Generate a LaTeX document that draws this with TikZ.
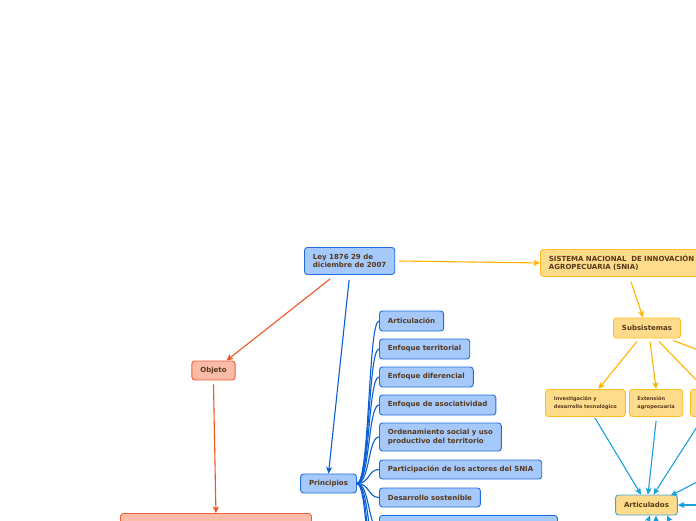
\documentclass[tikz,border=0pt]{standalone}
\usepackage{fontspec}
\setmainfont{DejaVu Sans}
\usetikzlibrary{arrows.meta}
\definecolor{bfill}{RGB}{166,201,252}
\definecolor{bdraw}{RGB}{30,110,225}
\definecolor{bline}{RGB}{10,95,215}
\definecolor{yfill}{RGB}{255,220,140}
\definecolor{ydraw}{RGB}{255,190,30}
\definecolor{yline}{RGB}{255,180,0}
\definecolor{sfill}{RGB}{250,188,168}
\definecolor{sdraw}{RGB}{242,95,50}
\definecolor{sline}{RGB}{242,85,35}
\definecolor{cline}{RGB}{25,160,225}
\definecolor{cdraw}{RGB}{60,165,215}
\definecolor{tcol}{RGB}{85,55,25}
\begin{document}
\begin{tikzpicture}[x=1pt,y=-1pt,
  box/.style={rounded corners=3pt, line width=0.9pt, font=\fontsize{7}{8.5}\selectfont\bfseries, text=tcol, inner xsep=8.5pt, inner ysep=0pt, align=left},
  smallbox/.style={box, font=\fontsize{5}{8}\selectfont\bfseries},
  bluebox/.style={box, fill=bfill, draw=bdraw},
  yelbox/.style={box, fill=yfill, draw=ydraw},
  salbox/.style={box, fill=sfill, draw=sdraw},
  artbox/.style={box, fill=yfill, draw=cdraw},
  tip/.style={-{Stealth[length=6.5pt,width=6pt,inset=1.5pt]}},
  conn/.style={line width=1.1pt},
  bconn/.style={conn, draw=bline},
  yconn/.style={conn, draw=yline, tip},
  sconn/.style={conn, draw=sline, tip},
  cconn/.style={conn, draw=cline, tip},
  pconn/.style={conn, draw=bline}
]
\useasboundingbox (0,0) rectangle (696,520);
\fill[white] (0,0) rectangle (696,520);
\begin{scope}
\clip (0,0) rectangle (696,520);

% main nodes
\node[bluebox, anchor=north west, minimum width=89pt, minimum height=27pt] (ley) at (304,247) {Ley 1876 29 de\\diciembre de 2007};
\node[yelbox, anchor=north west, minimum height=27pt, text width=183pt] (snia) at (540,249) {SISTEMA NACIONAL\ \ DE INNOVACIÓN\\AGROPECUARIA (SNIA)};
\node[yelbox, minimum width=66pt, minimum height=20pt] (sub) at (647,328) {Subsistemas};
\node[yelbox, smallbox, anchor=north west, minimum width=79pt, minimum height=27pt] (inv) at (545,389) {Investigación y\\desarrollo tecnológico};
\node[yelbox, smallbox, anchor=north west, minimum width=53pt, minimum height=27pt, inner xsep=8pt] (ext) at (629,389) {Extensión\\agropecuaria};
\node[yelbox, anchor=north west, minimum width=60pt, minimum height=27pt] (third) at (690,389) {};
\node[artbox, minimum width=61pt, minimum height=20pt] (art) at (646.5,505) {Articulados};
\node[salbox, minimum width=43pt, minimum height=19pt] (obj) at (213.5,370.5) {Objeto};
\node[salbox, anchor=north west, minimum width=191pt, minimum height=32pt] (big) at (120,513) {};
\node[bluebox, minimum width=55pt, minimum height=19pt] (prin) at (328.5,483.5) {Principios};

% principle items
\node[bluebox, anchor=west, minimum height=20pt] (p1) at (379,321) {Articulación};
\node[bluebox, anchor=west, minimum height=20pt] (p2) at (379,349) {Enfoque territorial};
\node[bluebox, anchor=west, minimum height=20pt] (p3) at (379,377) {Enfoque diferencial};
\node[bluebox, anchor=west, minimum height=20pt] (p4) at (379,405) {Enfoque de asociatividad};
\node[bluebox, anchor=west, minimum height=28pt] (p5) at (379,437) {Ordenamiento social y uso\\productivo del territorio};
\node[bluebox, anchor=west, minimum height=19pt] (p6) at (379,469.5) {Participación de los actores del SNIA};
\node[bluebox, anchor=west, minimum height=19pt] (p7) at (379,497.5) {Desarrollo sostenible};
\node[bluebox, anchor=north west, minimum height=28pt, minimum width=178pt] (p8) at (379,515) {};
\coordinate (p9) at (379,560);
\coordinate (p10) at (379,600);
\coordinate (p11) at (379,640);

% off-picture ends
\coordinate (c4) at (730,362);
\coordinate (r1) at (720,470);
\coordinate (r2) at (720,505);
\coordinate (b1) at (630,570);
\coordinate (b2) at (656,575);
\coordinate (b3) at (690,565);

% connectors
\draw[yconn, shorten <=4pt] (ley.east) -- (snia.west);
\draw[sconn] ([xshift=-19.5pt,yshift=-4pt]ley.south) -- ([xshift=-9pt]obj.north east);
\draw[bconn, tip] ([xshift=-0.5pt,yshift=-5pt]ley.south) -- (prin.north);
\draw[sconn] ([yshift=-4pt]obj.south) -- (big.north);

\draw[yconn] ([xshift=91pt,yshift=-5pt]snia.south west) -- ([xshift=-4pt]sub.north);
\draw[yconn] ([xshift=-10pt,yshift=-3pt]sub.south) -- ([xshift=13pt]inv.north);
\draw[yconn] ([xshift=3pt,yshift=-3pt]sub.south) -- (ext.north);
\draw[yconn] ([xshift=12pt,yshift=-3pt]sub.south) -- ([xshift=15pt]third.north west);
\draw[yconn] ([xshift=-8pt,yshift=-2pt]sub.south east) -- (c4);

\draw[cconn] ([xshift=9.5pt,yshift=-1pt]inv.south) -- ([xshift=-5.5pt]art.north);
\draw[cconn] ([yshift=-4pt]ext.south) -- ([xshift=1.5pt]art.north);
\draw[cconn] ([xshift=7pt,yshift=-10pt]third.south west) -- ([xshift=7pt]art.north);
\draw[cconn] (r1) -- ([xshift=-7pt,yshift=-1pt]art.north east);
\draw[cconn] (r2) -- (art.east);
\draw[cconn] (b1) -- ([xshift=3.5pt]art.south);
\draw[cconn] (b2) -- ([xshift=9.5pt]art.south);
\draw[cconn] (b3) -- ([xshift=20.5pt]art.south);

\foreach \t in {p1,p2,p3,p4,p5,p6,p7,p8}
  \draw[pconn] (prin.east) .. controls +(13,0) and +(-11,0) .. (\t.west);
\foreach \t in {p9,p10,p11}
  \draw[pconn] (prin.east) .. controls +(13,0) and +(-11,0) .. (\t);
\end{scope}
\end{tikzpicture}
\end{document}
